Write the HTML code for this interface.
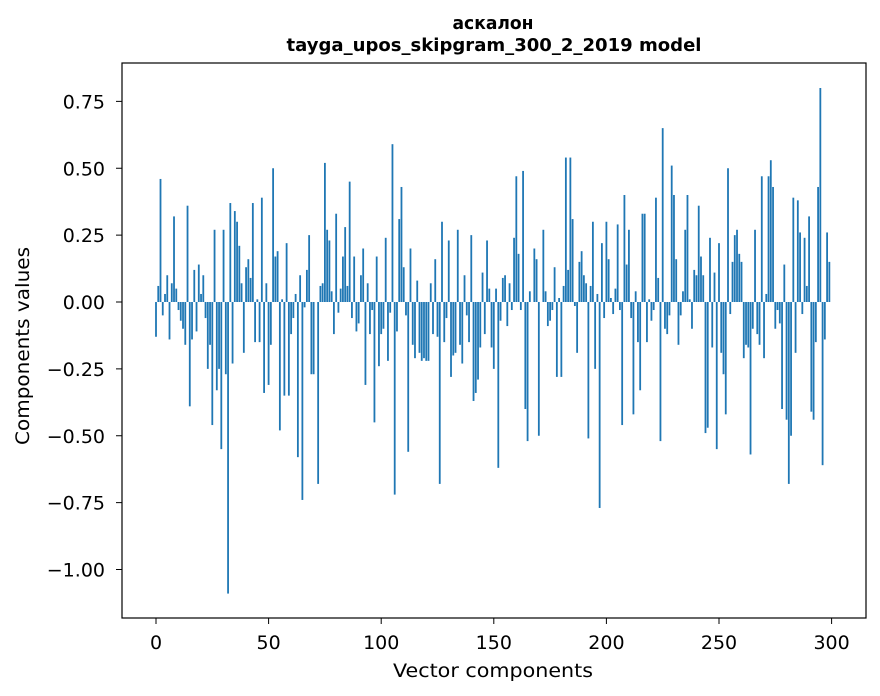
<!DOCTYPE html>
<html><head><meta charset="utf-8"><style>
body{margin:0;background:#fff;}
svg{display:block;font-family:"DejaVu Sans","Liberation Sans",sans-serif;}
</style></head><body>
<svg id="chart" width="880" height="696" viewBox="0 0 880 696">
<text x="493" y="29" text-anchor="middle" font-size="18" font-weight="bold" textLength="81" lengthAdjust="spacingAndGlyphs">аскалон</text>
<text x="494" y="51" text-anchor="middle" font-size="18" font-weight="bold" textLength="415" lengthAdjust="spacingAndGlyphs">tayga_upos_skipgram_300_2_2019 model</text>
<g id="bars"></g>
<g id="xticks"></g>
<g id="yticks"></g>
<rect x="122" y="63" width="744" height="555" fill="none" stroke="#000" stroke-width="1.2"/>
<text x="493" y="677" text-anchor="middle" font-size="19" textLength="200" lengthAdjust="spacingAndGlyphs">Vector components</text>
<text transform="translate(29,346) rotate(-90)" text-anchor="middle" font-size="19" textLength="198" lengthAdjust="spacingAndGlyphs">Components values</text>
</svg>
<script>
const values = [
-0.13,0.06,0.46,-0.05,0.03,0.10,-0.14,0.07,0.32,0.05,
-0.03,-0.07,-0.10,-0.16,0.36,-0.39,-0.14,0.12,-0.11,0.14,
0.03,0.10,-0.06,-0.25,-0.16,-0.46,0.27,-0.33,-0.25,-0.55,
0.27,-0.27,-1.09,0.37,-0.23,0.34,0.30,0.21,0.07,-0.19,
0.13,0.16,0.09,0.37,-0.15,0.01,-0.15,0.39,-0.34,0.07,
-0.31,-0.16,0.50,0.17,0.19,-0.48,0.01,-0.35,0.22,-0.35,
-0.12,-0.06,0.03,-0.58,0.10,-0.74,-0.02,0.12,0.25,-0.27,
-0.27,0.00,-0.68,0.06,0.07,0.52,0.27,0.23,0.04,-0.12,
0.33,-0.04,0.05,0.17,0.28,0.06,0.45,-0.06,0.17,-0.11,
-0.08,0.10,0.20,-0.31,0.07,-0.12,-0.03,-0.45,0.17,-0.24,
-0.12,-0.10,0.24,-0.22,-0.04,0.59,-0.72,-0.11,0.31,0.43,
0.13,-0.05,-0.56,0.20,-0.16,-0.21,0.08,-0.19,-0.22,-0.21,
-0.22,-0.22,0.07,-0.12,0.16,-0.13,-0.68,0.30,-0.15,-0.06,
0.23,-0.28,-0.20,-0.19,0.27,-0.16,-0.23,0.10,-0.05,-0.15,
0.25,-0.37,-0.34,-0.29,-0.17,0.11,-0.12,0.23,0.05,-0.17,
-0.25,0.05,-0.62,-0.07,0.09,0.10,-0.09,0.07,-0.03,0.24,
0.47,0.18,-0.03,0.49,-0.40,-0.52,0.04,0.00,0.20,0.16,
-0.50,0.00,0.27,0.04,-0.09,-0.07,-0.03,0.13,-0.28,0.015,
-0.28,0.06,0.54,0.12,0.54,0.31,-0.015,-0.19,0.15,0.19,
0.10,0.07,-0.51,0.06,0.30,-0.25,0.03,-0.77,0.22,-0.06,
0.30,0.16,0.015,-0.045,0.05,0.29,-0.03,-0.46,0.40,0.14,
0.27,-0.06,-0.42,0.04,-0.15,-0.33,0.33,0.33,-0.15,0.01,
-0.07,-0.03,0.39,0.09,-0.52,0.65,-0.10,-0.12,-0.05,0.51,
0.40,0.16,-0.16,-0.05,0.04,0.27,0.40,0.01,-0.10,0.12,
0.10,0.36,0.17,0.10,-0.49,-0.47,0.24,-0.17,0.11,-0.55,
0.22,-0.19,-0.27,-0.42,0.50,-0.045,0.15,0.25,0.27,0.18,
0.15,-0.21,-0.16,-0.17,-0.57,-0.10,0.27,-0.12,-0.16,0.47,
-0.21,0.03,0.47,0.53,0.43,-0.10,-0.03,-0.08,-0.40,0.14,
-0.44,-0.68,-0.50,0.39,-0.19,0.38,0.26,-0.045,0.24,0.06,
0.32,-0.41,-0.44,-0.15,0.43,0.80,-0.61,-0.14,0.26,0.15
];
const xTickValues = [0,50,100,150,200,250,300];
const yTickValues = [0.75,0.5,0.25,0,-0.25,-0.5,-0.75,-1.0];
const yTickLabels = ["0.75","0.50","0.25","0.00","\u22120.25","\u22120.50","\u22120.75","\u22121.00"];

const NS="http://www.w3.org/2000/svg";
function xScale(v){return 156+v*2.252;}
function yScale(v){return 302-v*267.5;}
const barsG=document.getElementById('bars');
values.forEach((v,i)=>{
  const r=document.createElementNS(NS,'rect');
  const y0=yScale(0), y1=yScale(v);
  r.setAttribute('x',xScale(i-0.4));
  r.setAttribute('width',0.8*2.252);
  r.setAttribute('y',Math.min(y0,y1));
  r.setAttribute('height',Math.max(Math.abs(y1-y0),0.01));
  r.setAttribute('fill','#1f77b4');
  
  
  barsG.appendChild(r);
});
const xg=document.getElementById('xticks');
xTickValues.forEach(v=>{
  const x=xScale(v);
  const l=document.createElementNS(NS,'line');
  l.setAttribute('x1',x);l.setAttribute('x2',x);l.setAttribute('y1',618);l.setAttribute('y2',624);
  l.setAttribute('stroke','#000');
  
  
  xg.appendChild(l);
  const t=document.createElementNS(NS,'text');
  t.setAttribute('x',x);t.setAttribute('y',649);t.setAttribute('text-anchor','middle');t.setAttribute('font-size','19');
  t.textContent=String(v);
  
  
  xg.appendChild(t);
});
const yg=document.getElementById('yticks');
yTickValues.forEach((v,k)=>{
  const y=yScale(v);
  const l=document.createElementNS(NS,'line');
  l.setAttribute('x1',116);l.setAttribute('x2',122);l.setAttribute('y1',y);l.setAttribute('y2',y);
  l.setAttribute('stroke','#000');
  
  
  yg.appendChild(l);
  const t=document.createElementNS(NS,'text');
  t.setAttribute('x',105);t.setAttribute('y',y+7);t.setAttribute('text-anchor','end');t.setAttribute('font-size','19');
  t.textContent=yTickLabels[k];
  
  
  yg.appendChild(t);
});
</script>
</body></html>
